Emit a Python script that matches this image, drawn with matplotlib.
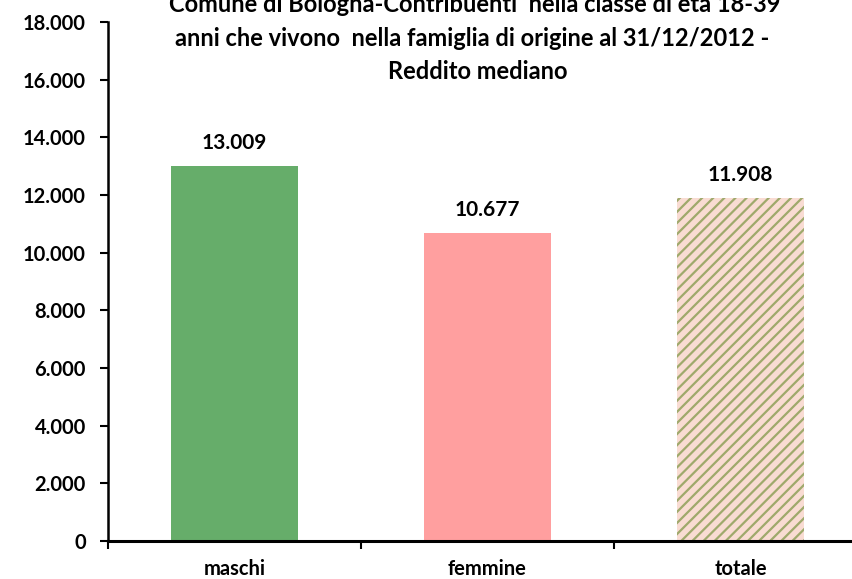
import matplotlib
matplotlib.use("Agg")
import matplotlib.pyplot as plt
from matplotlib.ticker import FuncFormatter, FixedLocator

categories = ["maschi", "femmine", "totale"]
values = [13009, 10677, 11908]
y_ticks = [0, 2000, 4000, 6000, 8000, 10000, 12000, 14000, 16000, 18000]

title = ("Comune di Bologna-Contribuenti  nella classe di età 18-39 \n"
         "anni che vivono  nella famiglia di origine al 31/12/2012 -  \n"
         "Reddito mediano")

plt.rcParams["font.family"] = ["Lato", "DejaVu Sans"]
plt.rcParams["hatch.linewidth"] = 1.6
plt.rcParams["hatch.color"] = "#9fa96c"

W, H = 853, 579
fig = plt.figure(figsize=(W / 100, H / 100), dpi=100)
ax = fig.add_axes([108 / W, (H - 541) / H, 759 / W, 519 / H])

def it_fmt(v, pos=None):
    return f"{int(round(v)):,}".replace(",", ".")

x = list(range(len(categories)))
face = ["#66ad6a", "#ff9f9f", "#f9dcd3"]
hatches = [None, None, "///"]
for xi, v, c, h in zip(x, values, face, hatches):
    ax.bar(xi, v, width=0.5, color=c, hatch=h, linewidth=0,
           edgecolor="#9fa96c" if h else c)
    ax.text(xi, v + 800, it_fmt(v), ha="center", va="center",
            fontsize=15, fontweight="bold")

ax.set_xlim(-0.5, 2.5)
ax.set_ylim(0, 18000)
ax.set_yticks(y_ticks)
ax.yaxis.set_major_formatter(FuncFormatter(it_fmt))
ax.set_xticks(x)
ax.set_xticklabels(categories)
ax.xaxis.set_minor_locator(FixedLocator([-0.5, 0.5, 1.5]))
ax.tick_params(axis="x", which="minor", length=6, width=1.5, direction="out")
ax.tick_params(axis="y", length=6, width=1.5, direction="out", pad=10)
for lbl in ax.get_yticklabels():
    lbl.set_fontsize(14.5)
    lbl.set_fontweight("bold")
for lbl in ax.get_xticklabels():
    lbl.set_fontsize(14.5)
    lbl.set_fontweight("bold")
    lbl.set_verticalalignment("center")
ax.tick_params(axis="x", which="major", length=0, pad=20)

for s in ["top", "right"]:
    ax.spines[s].set_visible(False)
ax.spines["left"].set_linewidth(1.8)
ax.spines["bottom"].set_linewidth(2.2)

fig.text(478 / W, 1 - 38 / H, title, ha="center", va="center",
         fontsize=17, fontweight="bold", linespacing=1.55)

fig.savefig("out.png", dpi=100)
